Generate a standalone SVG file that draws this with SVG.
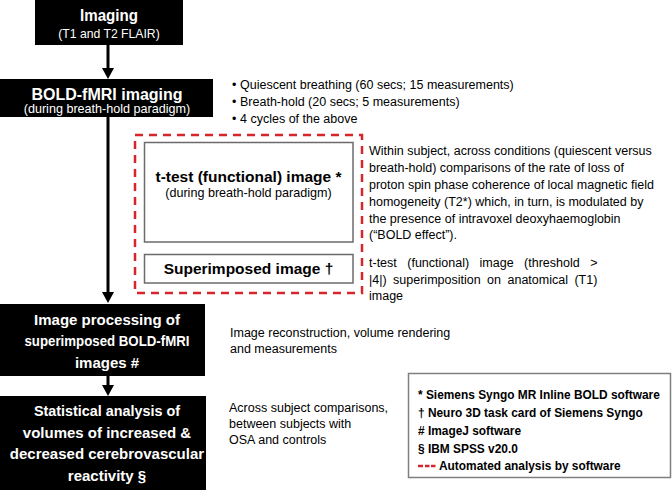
<svg xmlns="http://www.w3.org/2000/svg" width="672" height="490" viewBox="0 0 672 490">
<defs>
<style>
text{font-family:"Liberation Sans",Arial,sans-serif;fill:#000}
.b{font-weight:bold}
.w{fill:#fff}
.blk{fill:#000}
.t{font-size:12.5px}
.m{text-anchor:middle}
.conn{stroke:#000;stroke-width:3;fill:none}
.red{stroke:#d7262b;stroke-width:2.5;fill:none;stroke-dasharray:8 6}
.wbox{fill:#fff;stroke:#6b6b6b;stroke-width:1.5}
</style>
<marker id="ah" markerUnits="userSpaceOnUse" markerWidth="12" markerHeight="12" refX="0" refY="6" orient="auto" viewBox="0 0 12 12">
<path d="M0,0 L11,6 L0,12 Z" fill="#000"/>
</marker>
</defs>
<rect width="672" height="490" fill="#fff"/>

<g id="connectors">
<line class="conn" x1="108" y1="45" x2="108" y2="68" marker-end="url(#ah)"/>
<line class="conn" x1="108" y1="117" x2="108" y2="292" marker-end="url(#ah)"/>
<line class="conn" x1="108" y1="376" x2="108" y2="385" marker-end="url(#ah)"/>
</g>

<g id="imaging">
<rect class="blk" x="35" y="-1" width="148" height="46"/>
<text class="b w m" x="109" y="20.5" font-size="16" textLength="58" lengthAdjust="spacingAndGlyphs">Imaging</text>
<text class="w m" x="109" y="37.5" font-size="12.2">(T1 and T2 FLAIR)</text>
</g>

<g id="bold-fmri">
<rect class="blk" x="-2" y="79" width="215" height="38"/>
<text class="b w m" x="107" y="99.5" font-size="16">BOLD-fMRI imaging</text>
<text class="w m" x="107" y="113" font-size="12.6">(during breath-hold paradigm)</text>
</g>

<g id="bullets">
<text class="t" y="89"><tspan x="232">•</tspan><tspan x="240">Quiescent breathing (60 secs; 15 measurements)</tspan></text>
<text class="t" y="105.8"><tspan x="232">•</tspan><tspan x="240">Breath-hold (20 secs; 5 measurements)</tspan></text>
<text class="t" y="122.6"><tspan x="232">•</tspan><tspan x="240">4 cycles of the above</tspan></text>
</g>

<g id="automated-group">
<rect class="red" x="135" y="135" width="227" height="158"/>
</g>

<g id="ttest">
<rect class="wbox" x="144.5" y="142.5" width="208.5" height="99.5"/>
<text class="b m" x="248.5" y="182" font-size="15.5">t-test (functional) image *</text>
<text class="m" x="248.5" y="196.5" font-size="12.6">(during breath-hold paradigm)</text>
</g>

<g id="ttest-note">
<text class="t" x="369" y="155">Within subject, across conditions (quiescent versus</text>
<text class="t" x="369" y="172">breath-hold) comparisons of the rate of loss of</text>
<text class="t" x="369" y="189">proton spin phase coherence of local magnetic field</text>
<text class="t" x="369" y="206">homogeneity (T2*) which, in turn, is modulated by</text>
<text class="t" x="369" y="222.5">the presence of intravoxel deoxyhaemoglobin</text>
<text class="t" x="369" y="239">(“BOLD effect”).</text>
</g>

<g id="superimposed">
<rect class="wbox" x="144.5" y="254.5" width="208.5" height="28.5"/>
<text class="b m" x="248.5" y="274" font-size="15.5">Superimposed image †</text>
</g>

<g id="superimposed-note">
<text class="t" x="369" y="267" word-spacing="7">t-test (functional) image (threshold &gt;</text>
<text class="t" x="369" y="283.5" word-spacing="3">|4|) superimposition on anatomical (T1)</text>
<text class="t" x="369" y="300">image</text>
</g>

<g id="image-processing">
<rect class="blk" x="-2" y="304" width="207" height="72"/>
<text class="b w m" x="107" y="324.5" font-size="15">Image processing of</text>
<text class="b w m" x="107" y="346" font-size="15" textLength="165" lengthAdjust="spacingAndGlyphs">superimposed BOLD-fMRI</text>
<text class="b w m" x="107" y="367.5" font-size="15">images #</text>
</g>

<g id="processing-note">
<text class="t" x="230" y="336.5">Image reconstruction, volume rendering</text>
<text class="t" x="230" y="353">and measurements</text>
</g>

<g id="statistical-analysis">
<rect class="blk" x="-2" y="396" width="208" height="96"/>
<text class="b w m" x="107" y="416" font-size="15" textLength="146" lengthAdjust="spacingAndGlyphs">Statistical analysis of</text>
<text class="b w m" x="107" y="437.5" font-size="15">volumes of increased &amp;</text>
<text class="b w m" x="107" y="459" font-size="15">decreased cerebrovascular</text>
<text class="b w m" x="107" y="480.5" font-size="15">reactivity §</text>
</g>

<g id="statistics-note">
<text class="t" x="229" y="411.5">Across subject comparisons,</text>
<text class="t" x="229" y="427.5">between subjects with</text>
<text class="t" x="229" y="443.5">OSA and controls</text>
</g>

<g id="legend">
<rect x="408.5" y="373.5" width="262" height="104" fill="#fff" stroke="#7f7f7f" stroke-width="1.5"/>
<text class="b" x="418" y="399" font-size="11.9">* Siemens Syngo MR Inline BOLD software</text>
<text class="b" x="418" y="417" font-size="11.9">† Neuro 3D task card of Siemens Syngo</text>
<text class="b" x="418" y="435" font-size="11.9"># ImageJ software</text>
<text class="b" x="418" y="452.5" font-size="11.9">§ IBM SPSS v20.0</text>
<path d="M418,466h5M425,466h4.5M431,466h4.5" stroke="#d7262b" stroke-width="2.5" fill="none"/>
<text class="b" x="439" y="470" font-size="11.9">Automated analysis by software</text>
</g>
</svg>
